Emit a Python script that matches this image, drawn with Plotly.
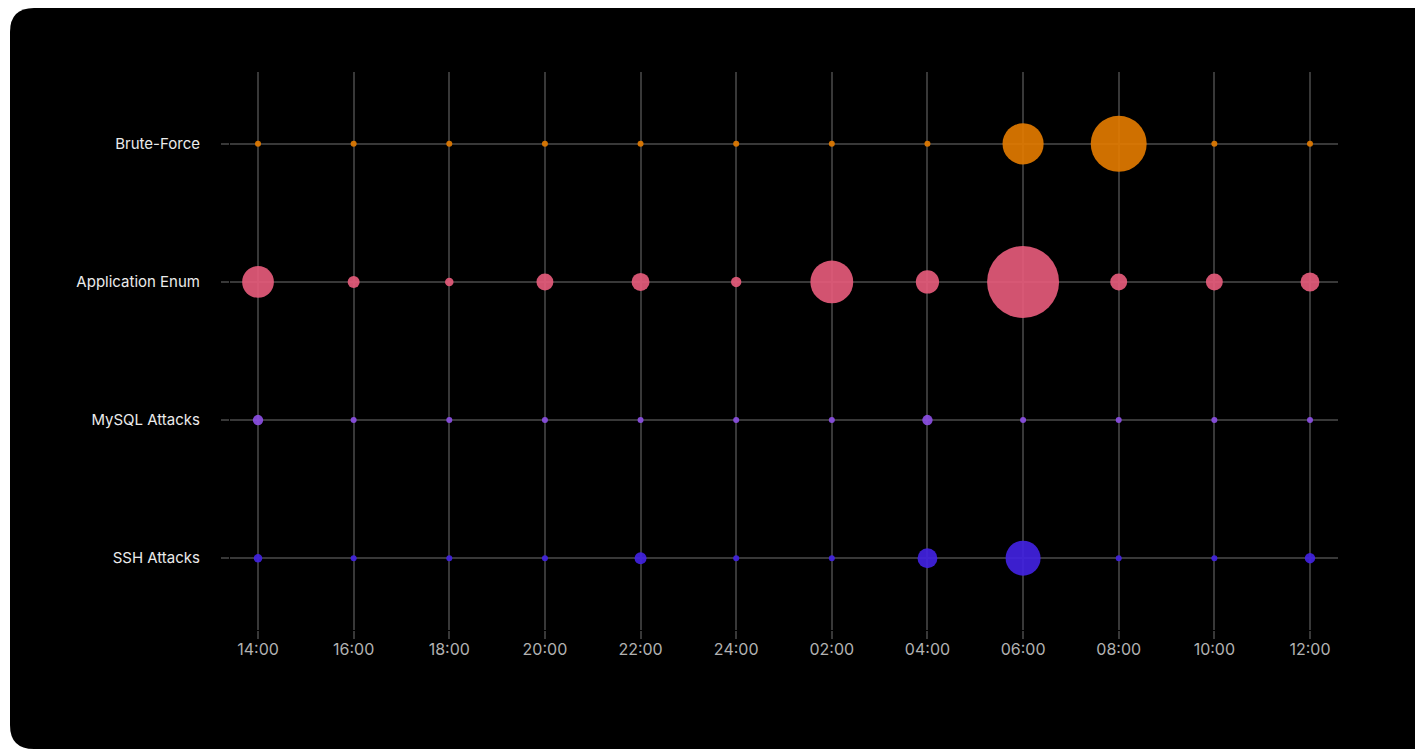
import plotly.graph_objects as go

hours = ["14:00", "16:00", "18:00", "20:00", "22:00", "24:00",
         "02:00", "04:00", "06:00", "08:00", "10:00", "12:00"]
categories = ["SSH Attacks", "MySQL Attacks", "Application Enum", "Brute-Force"]

brute_force = [1, 1, 1, 1, 1, 1, 1, 1, 47, 87, 1, 1]
app_enum = [28, 4, 2, 8, 9, 3, 51, 15, 144, 8, 8, 10]
mysql = [3, 1, 1, 1, 1, 1, 1, 3, 1, 1, 1, 1]
ssh = [2, 1, 1, 1, 4, 1, 1, 11, 34, 1, 1, 3]

series = [
    ("Brute-Force", brute_force, "rgb(230,124,0)"),
    ("Application Enum", app_enum, "rgb(233,92,124)"),
    ("MySQL Attacks", mysql, "rgb(142,80,232)"),
    ("SSH Attacks", ssh, "rgb(66,34,228)"),
]

max_val = max(max(s[1]) for s in series)
sizeref = 2.0 * max_val / (72 ** 2)

fig = go.Figure()
for name, vals, color in series:
    fig.add_trace(go.Scatter(
        x=hours, y=[name] * len(hours), mode="markers", name=name,
        marker=dict(size=vals, sizemode="area", sizeref=sizeref, sizemin=0,
                    color=color, opacity=0.9, line=dict(width=0)),
        hoverinfo="x+y+text", text=[str(v) for v in vals],
    ))

FW, FH = 1423, 750
L, T, W, H = 222, 64, 1108, 558
# rounded black card (pixel coords relative to plot bottom-left)
x0, x1 = 2 - L, 1450 - L
y1, y0 = (T + H) - 0, (T + H) - 741
r = 24
path = (f"M {x0+r},{y1} L {x1-r},{y1} Q {x1},{y1} {x1},{y1-r} "
        f"L {x1},{y0+r} Q {x1},{y0} {x1-r},{y0} "
        f"L {x0+r},{y0} Q {x0},{y0} {x0},{y0+r} "
        f"L {x0},{y1-r} Q {x0},{y1} {x0+r},{y1} Z")

fig.add_shape(type="path", path=path, xref="paper", yref="paper",
              xsizemode="pixel", ysizemode="pixel", xanchor=0, yanchor=0,
              fillcolor="black", line=dict(width=0), layer="below")

grid = "rgb(56,56,56)"
fig.update_layout(
    width=FW, height=FH,
    margin=dict(l=L, r=FW - L - W, t=T, b=FH - T - H),
    paper_bgcolor="white", plot_bgcolor="rgba(0,0,0,0)",
    showlegend=False,
    font=dict(family="Inter, Open Sans, sans-serif"),
    xaxis=dict(type="category", categoryorder="array", categoryarray=hours,
               range=[-0.293, 11.293], showgrid=True, gridcolor=grid, gridwidth=1.5,
               zeroline=False, showline=False, ticks="outside", ticklen=8,
               tickcolor=grid, tickwidth=1.5, ticklabelstandoff=-3,
               tickfont=dict(size=16, color="rgb(178,178,178)")),
    yaxis=dict(type="category", categoryorder="array", categoryarray=categories,
               range=[-0.52, 3.52], showgrid=True, gridcolor=grid, gridwidth=1.5,
               zeroline=False, showline=False, ticks="outside", ticklen=8,
               tickcolor=grid, tickwidth=1.5, ticklabelstandoff=18,
               tickfont=dict(size=15, color="rgb(235,235,235)")),
)

fig.write_html("out.html")
